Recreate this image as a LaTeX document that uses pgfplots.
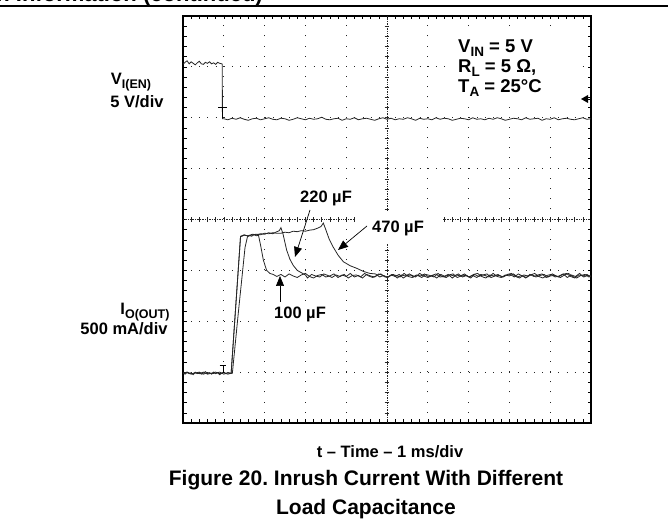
\documentclass[border=0pt]{standalone}
\usepackage{pgfplots}
\pgfplotsset{compat=1.18}
\usepackage{fontspec}
\setmainfont{Liberation Sans}
\usetikzlibrary{arrows.meta}
\frenchspacing
\tikzset{tr/.style={black!85, line width=0.8bp}, cl/.style={black!85, line width=0.6bp}}
\newcommand\fs[1]{\fontsize{#1bp}{#1bp}\selectfont\bfseries}
\newcommand\sub[1]{\raisebox{-4bp}{\fontsize{12.5bp}{12.5bp}\selectfont\bfseries #1}}
\newcommand\subb[1]{\raisebox{-4bp}{\fontsize{13.5bp}{13.5bp}\selectfont\bfseries #1}}
\begin{document}
\begin{tikzpicture}
\useasboundingbox (0,0) rectangle (668bp,527bp);
% header (cut off at the top)
\begin{scope}
\clip (0,0) rectangle (668bp,527bp);
\node[anchor=base east, inner sep=0] at (263bp,525.5bp) {\fs{22}Application Information (continued)};
\end{scope}
\draw[line width=1.5bp] (0,521bp) -- (668bp,521bp);

\begin{axis}[at={(183bp,104bp)}, anchor=south west, width=408bp, height=407bp, scale only axis,
  xmin=0, xmax=10, ymin=0, ymax=8,
  axis line style={line width=2bp, black},
  xtick={1,2,3,4,6,7,8,9}, ytick={1,2,3,5,6,7},
  minor xtick={0.2,0.4,...,9.81}, minor ytick={0.2,0.4,...,7.81},
  xticklabels={}, yticklabels={},
  tick align=inside, major tick length=3.5bp, minor tick length=3.5bp,
  tick style={line width=0.6bp, black},
  xmajorgrids, ymajorgrids,
  x grid style={line width=1bp, black!85, dash pattern=on 1bp off 9.175bp},
  y grid style={line width=1bp, black!85, dash pattern=on 1bp off 7.16bp}]

% centre graticule lines with their tick marks
\draw[cl, dash pattern=on 0.8bp off 0.9bp] (axis cs:0,4) -- (axis cs:10,4);
\draw[cl, dash pattern=on 0.8bp off 0.9bp] (axis cs:5,0) -- (axis cs:5,8);
\pgfplotsinvokeforeach{0.2,0.4,...,9.81}{\draw[cl] (axis cs:#1,3.95) -- (axis cs:#1,4.05);}
\pgfplotsinvokeforeach{0.2,0.4,...,7.81}{\draw[cl] (axis cs:4.94,#1) -- (axis cs:5.06,#1);}

% V_I(EN)
\addplot[tr] coordinates {(0,7.05)(0.05,7.09)(0.1,7.12)(0.15,7.06)(0.2,7.10)(0.25,7.07)(0.3,7.04)(0.35,7.08)(0.4,7.11)(0.45,7.06)(0.5,7.05)(0.55,7.09)(0.6,7.07)(0.65,7.10)(0.7,7.06)(0.75,7.08)(0.8,7.05)(0.85,7.09)(0.9,7.07)(0.95,7.06)(0.963,7.05)(0.966,5.98)
(1.0,5.98)(1.1,5.96)(1.2,5.99)(1.3,5.97)(1.4,6.00)(1.5,5.97)(1.6,5.95)(1.7,5.98)(1.8,5.99)(1.9,5.96)
(2.0,5.98)(2.1,6.00)(2.2,5.97)(2.3,5.96)(2.4,5.99)(2.5,5.98)(2.6,5.95)(2.7,5.97)(2.8,6.00)(2.9,5.98)
(3.0,5.96)(3.1,5.99)(3.2,5.97)(3.3,5.98)(3.4,6.01)(3.5,5.97)(3.6,5.96)(3.7,5.98)(3.8,5.99)(3.9,5.95)
(4.0,5.98)(4.1,5.97)(4.2,6.00)(4.3,5.96)(4.4,5.98)(4.5,5.99)(4.6,5.97)(4.7,5.95)(4.8,5.98)(4.9,6.00)
(5.0,5.97)(5.1,5.99)(5.2,5.96)(5.3,5.98)(5.4,5.97)(5.5,6.00)(5.6,5.98)(5.7,5.95)(5.8,5.99)(5.9,5.97)
(6.0,5.98)(6.1,5.96)(6.2,6.00)(6.3,5.97)(6.4,5.99)(6.5,5.98)(6.6,5.95)(6.7,5.97)(6.8,5.99)(6.9,5.98)
(7.0,5.96)(7.1,6.00)(7.2,5.97)(7.3,5.98)(7.4,5.96)(7.5,5.99)(7.6,5.97)(7.7,6.00)(7.8,5.98)(7.9,5.95)
(8.0,5.97)(8.1,5.99)(8.2,5.98)(8.3,5.96)(8.4,6.00)(8.5,5.97)(8.6,5.98)(8.7,5.99)(8.8,5.95)(8.9,5.98)
(9.0,5.97)(9.1,6.00)(9.2,5.96)(9.3,5.98)(9.4,5.99)(9.5,5.97)(9.6,5.96)(9.7,5.98)(9.8,6.00)(9.9,5.97)(10.0,5.98)};

% 100 uF
\addplot[tr] coordinates {(0,0.99)(0.05,0.96)(0.1,1.00)(0.15,0.97)(0.2,0.99)(0.25,0.95)(0.3,1.00)(0.35,0.97)(0.4,0.99)(0.45,0.96)(0.5,0.98)(0.55,1.01)(0.6,0.97)(0.65,0.99)(0.7,0.96)(0.75,1.00)(0.8,0.97)(0.85,0.99)(0.9,0.95)(0.95,0.98)(1.0,1.00)(1.05,0.97)(1.1,0.99)(1.15,0.97)(1.21,0.98)
(1.36,2.2)(1.45,2.9)(1.52,3.45)(1.58,3.66)(1.62,3.69)(1.68,3.67)(1.74,3.70)(1.80,3.68)(1.85,3.69)(1.90,3.50)(1.97,3.20)(2.05,3.00)(2.13,2.94)(2.21,2.92)(2.3,2.88)
(2.4,2.92)(2.5,2.87)(2.6,2.93)(2.7,2.89)(2.8,2.86)(2.9,2.91)(3.0,2.94)(3.1,2.88)(3.2,2.85)(3.3,2.90)(3.4,2.92)(3.5,2.87)(3.6,2.89)(3.7,2.93)(3.8,2.86)(3.9,2.91)(4.0,2.88)(4.1,2.94)(4.2,2.87)(4.3,2.90)(4.4,2.85)(4.5,2.92)(4.6,2.89)(4.7,2.87)(4.8,2.93)(4.9,2.90)(5.0,2.86)(5.1,2.91)(5.2,2.88)(5.3,2.92)(5.4,2.85)(5.5,2.90)(5.6,2.91)(5.7,2.87)(5.8,2.94)(5.9,2.89)(6.0,2.86)(6.1,2.90)(6.2,2.93)(6.3,2.87)(6.4,2.88)(6.5,2.92)(6.6,2.85)(6.7,2.91)(6.8,2.89)(6.9,2.93)(7.0,2.87)(7.1,2.90)(7.2,2.86)(7.3,2.92)(7.4,2.90)(7.5,2.87)(7.6,2.94)(7.7,2.88)(7.8,2.86)(7.9,2.91)(8.0,2.89)(8.1,2.93)(8.2,2.87)(8.3,2.90)(8.4,2.85)(8.5,2.92)(8.6,2.88)(8.7,2.91)(8.8,2.93)(8.9,2.86)(9.0,2.89)(9.1,2.90)(9.2,2.87)(9.3,2.92)(9.4,2.94)(9.5,2.88)(9.6,2.85)(9.7,2.91)(9.8,2.89)(9.9,2.92)(10.0,2.87)};

% 220 uF
\addplot[tr] coordinates {(0,0.97)(0.1,0.99)(0.2,0.96)(0.3,0.99)(0.4,0.97)(0.5,1.00)(0.6,0.96)(0.7,0.98)(0.8,1.00)(0.9,0.97)(1.0,0.99)(1.1,0.96)(1.18,0.98)
(1.41,3.66)(1.5,3.69)(1.6,3.68)(1.7,3.71)(1.8,3.70)(1.9,3.72)(2.0,3.71)(2.1,3.74)(2.2,3.72)(2.3,3.76)(2.36,3.78)(2.40,3.84)(2.45,3.72)(2.54,3.40)(2.62,3.22)(2.70,3.10)(2.80,3.00)(2.91,2.95)(3.0,2.91)
(3.05,2.85)(3.15,2.92)(3.25,2.89)(3.35,2.87)(3.45,2.93)(3.55,2.90)(3.65,2.86)(3.75,2.91)(3.85,2.88)(3.95,2.92)(4.05,2.85)(4.15,2.90)(4.25,2.91)(4.35,2.87)(4.45,2.94)(4.55,2.89)(4.65,2.86)(4.75,2.90)(4.85,2.93)(4.95,2.87)(5.05,2.88)(5.15,2.92)(5.25,2.85)(5.35,2.91)(5.45,2.89)(5.55,2.93)(5.65,2.87)(5.75,2.90)(5.85,2.86)(5.95,2.92)(6.05,2.90)(6.15,2.87)(6.25,2.94)(6.35,2.88)(6.45,2.86)(6.55,2.91)(6.65,2.89)(6.75,2.93)(6.85,2.87)(6.95,2.90)(7.05,2.85)(7.15,2.92)(7.25,2.88)(7.35,2.91)(7.45,2.93)(7.55,2.86)(7.65,2.89)(7.75,2.90)(7.85,2.87)(7.95,2.92)(8.05,2.94)(8.15,2.88)(8.25,2.85)(8.35,2.91)(8.45,2.89)(8.55,2.92)(8.65,2.87)(8.75,2.90)(8.85,2.92)(8.95,2.87)(9.05,2.93)(9.15,2.89)(9.25,2.86)(9.35,2.91)(9.45,2.94)(9.55,2.88)(9.65,2.85)(9.75,2.90)(9.85,2.92)(9.95,2.87)(10.0,2.89)};

% 470 uF
\addplot[tr] coordinates {(0,0.98)(0.1,1.00)(0.2,0.97)(0.3,0.98)(0.4,1.00)(0.5,0.96)(0.6,0.99)(0.7,0.97)(0.8,0.98)(0.9,1.00)(1.0,0.96)(1.1,0.99)(1.18,0.98)
(1.41,3.67)(1.5,3.70)(1.6,3.67)(1.7,3.70)(1.8,3.71)(1.9,3.70)(2.0,3.73)(2.1,3.72)(2.2,3.74)(2.3,3.73)(2.4,3.73)(2.5,3.75)(2.6,3.74)(2.7,3.77)(2.8,3.76)(2.9,3.78)(3.0,3.77)(3.1,3.79)(3.2,3.80)(3.3,3.83)(3.38,3.86)(3.44,3.93)(3.50,3.80)(3.58,3.62)(3.68,3.46)(3.80,3.30)(3.93,3.17)(4.1,3.09)(4.26,3.04)(4.42,2.98)(4.58,2.94)
(4.72,2.93)(4.82,2.87)(4.92,2.90)(5.02,2.86)(5.12,2.92)(5.22,2.90)(5.32,2.87)(5.42,2.94)(5.52,2.88)(5.62,2.86)(5.72,2.91)(5.82,2.89)(5.92,2.93)(6.02,2.87)(6.12,2.90)(6.22,2.85)(6.32,2.92)(6.42,2.88)(6.52,2.91)(6.62,2.93)(6.72,2.86)(6.82,2.89)(6.92,2.90)(7.02,2.87)(7.12,2.92)(7.22,2.94)(7.32,2.88)(7.42,2.85)(7.52,2.91)(7.62,2.89)(7.72,2.92)(7.82,2.87)(7.92,2.90)(8.02,2.92)(8.12,2.87)(8.22,2.93)(8.32,2.89)(8.42,2.86)(8.52,2.91)(8.62,2.94)(8.72,2.88)(8.82,2.85)(8.92,2.90)(9.02,2.92)(9.12,2.87)(9.22,2.89)(9.32,2.93)(9.42,2.86)(9.52,2.91)(9.62,2.88)(9.72,2.94)(9.82,2.87)(9.92,2.90)(10.0,2.89)};

% trigger position markers
\draw[black, line width=0.7bp] (axis cs:0.963,5.99) -- (axis cs:0.963,6.21) (axis cs:0.86,6.21) -- (axis cs:1.07,6.21);
\draw[black, line width=0.7bp] (axis cs:0.98,0.99) -- (axis cs:0.98,1.13) (axis cs:0.90,1.13) -- (axis cs:1.06,1.13);
\end{axis}

% white label boxes
\fill[white] (447bp,424bp) rectangle (578bp,499bp);
\fill[white] (288bp,315bp) rectangle (368bp,344bp);
\fill[white] (355bp,284bp) rectangle (443bp,316bp);
\fill[white] (260bp,199bp) rectangle (342bp,225bp);

% trigger level marker
\fill (581bp,428bp) -- (588bp,432bp) -- (588bp,424bp) -- cycle;
\draw[line width=0.7bp] (588bp,428bp) -- (591bp,428bp);

% condition block
\node[anchor=base west, inner sep=0] at (458bp,474bp) {\fs{18.5}V\subb{IN} = 5 V};
\node[anchor=base west, inner sep=0] at (458bp,454bp) {\fs{18.5}R\subb{L} = 5 Ω,};
\node[anchor=base west, inner sep=0] at (458bp,434bp) {\fs{18.5}T\subb{A} = 25°C};

% capacitance labels and arrows
\node[anchor=base, inner sep=0] at (326bp,324bp) {\fs{16.5}220 µF};
\node[anchor=base, inner sep=0] at (398bp,294bp) {\fs{16.5}470 µF};
\node[anchor=base, inner sep=0] at (300bp,208bp) {\fs{16.5}100 µF};
\draw[line width=0.7bp, -{Triangle[length=10bp,width=8bp]}] (310bp,317bp) -- (295bp,270bp);
\draw[line width=0.7bp, -{Triangle[length=10bp,width=8bp]}] (367bp,301bp) -- (338bp,277bp);
\draw[line width=0.7bp, -{Triangle[length=10bp,width=8bp]}] (280bp,225bp) -- (280bp,251bp);

% channel labels
\node[anchor=base, inner sep=0] at (131bp,442bp) {\fs{16.5}V\sub{I(EN)}};
\node[anchor=base, inner sep=0] at (137bp,419bp) {\fs{16.5}5 V/div};
\node[anchor=base, inner sep=0] at (145bp,212bp) {\fs{16.5}I\sub{O(OUT)}};
\node[anchor=base, inner sep=0] at (124bp,192bp) {\fs{16.5}500 mA/div};

% axis title and caption
\node[anchor=base, inner sep=0] at (390bp,69bp) {\fs{16.5}t – Time – 1 ms/div};
\node[anchor=base, inner sep=0] at (366bp,41.5bp) {\fs{21}Figure 20. Inrush Current With Different};
\node[anchor=base, inner sep=0] at (366bp,13bp) {\fs{21}Load Capacitance};
\end{tikzpicture}
\end{document}
